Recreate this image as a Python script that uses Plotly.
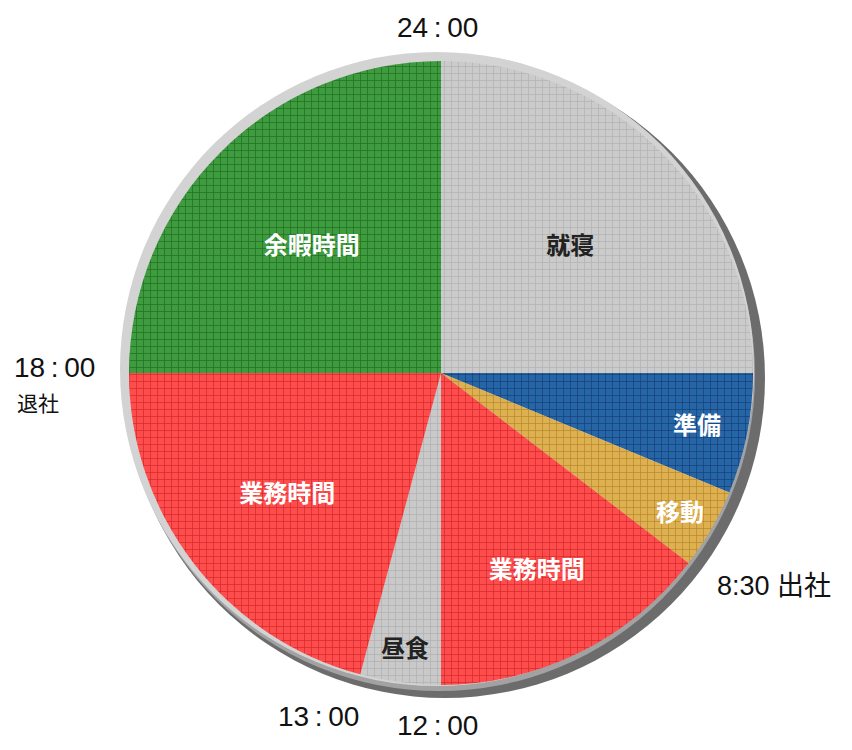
""" 24-hour daily schedule pie (one day of a worker) """

import plotly.graph_objects as go

# slices clockwise from 24:00, hours per slice
slice_ids = ["就寝", "準備", "移動", "業務時間(午前)", "昼食", "業務時間(午後)", "余暇時間"]
slice_text = ["就寝", "準備", "移動", "業務時間", "昼食", "業務時間", "余暇時間"]
hours = [6, 1.5, 1, 3.5, 1, 5, 6]

slice_colors = ["#cbcbcb", "#2766a6", "#dfb050", "#ff4d4d", "#c9c9c9", "#ff4d4d", "#3f9b3f"]
grid_colors = ["#adadad", "#103a72", "#ad822a", "#cc2424", "#acacac", "#cc2424", "#1b681b"]
text_colors = ["#222222", "#ffffff", "#ffffff", "#ffffff", "#222222", "#ffffff", "#ffffff"]

# clock labels round the pie
time_labels = ["24\u2009:\u200900", "18\u2009:\u200900", "退社", "8:30 出社",
               "13\u2009:\u200900", "12\u2009:\u200900"]

W, H = 852, 750
cx, cy, r = 441, 373, 312


def px_x(x):
    return x / W


def px_y(y):
    return 1 - y / H


fig = go.Figure(
    go.Pie(
        labels=slice_ids,
        values=hours,
        text=slice_text,
        texttemplate="%{text}",
        textposition="inside",
        insidetextorientation="horizontal",
        sort=False,
        direction="clockwise",
        rotation=0,
        hoverinfo="text+value",
        marker=dict(
            colors=slice_colors,
            line=dict(width=0),
            pattern=dict(
                shape="+",
                fillmode="overlay",
                fgcolor=grid_colors,
                fgopacity=0.85,
                size=7,
                solidity=0.2,
            ),
        ),
        insidetextfont=dict(
            family="Noto Sans CJK JP", size=24, color=text_colors, weight="bold"
        ),
        domain=dict(
            x=[px_x(cx - r), px_x(cx + r)],
            y=[px_y(cy + r), px_y(cy - r)],
        ),
        showlegend=False,
    )
)


def ring_disc(dx, dy, rad, color):
    # shaded disc behind the pie, offset to fake the bevel/shadow
    fig.add_shape(
        type="circle", xref="paper", yref="paper", layer="below",
        x0=px_x(cx + dx - rad), x1=px_x(cx + dx + rad),
        y0=px_y(cy + dy + rad), y1=px_y(cy + dy - rad),
        fillcolor=color, line=dict(width=0),
    )


ring_disc(4, 5, 320, "#6c6c6c")
ring_disc(-2, 2, 316, "#a2a2a2")
ring_disc(-4, -4, 317, "#d3d3d3")

label_pos = [(437, 28), (54, 367), (38, 404), (774, 586), (318, 716), (437, 725)]
label_size = [28, 28, 21, 27, 28, 28]
for txt, (x, y), size in zip(time_labels, label_pos, label_size):
    fig.add_annotation(
        x=px_x(x), y=px_y(y), xref="paper", yref="paper",
        xanchor="center", yanchor="middle",
        text=txt, showarrow=False,
        font=dict(family="Liberation Sans, Noto Sans CJK JP", size=size, color="#111111"),
    )

fig.update_layout(
    width=W,
    height=H,
    margin=dict(l=0, r=0, t=0, b=0),
    paper_bgcolor="white",
    plot_bgcolor="white",
)

fig.write_html(
    "out.html",
    config={"displayModeBar": False},
    post_script="document.body.style.margin='0';",
)
